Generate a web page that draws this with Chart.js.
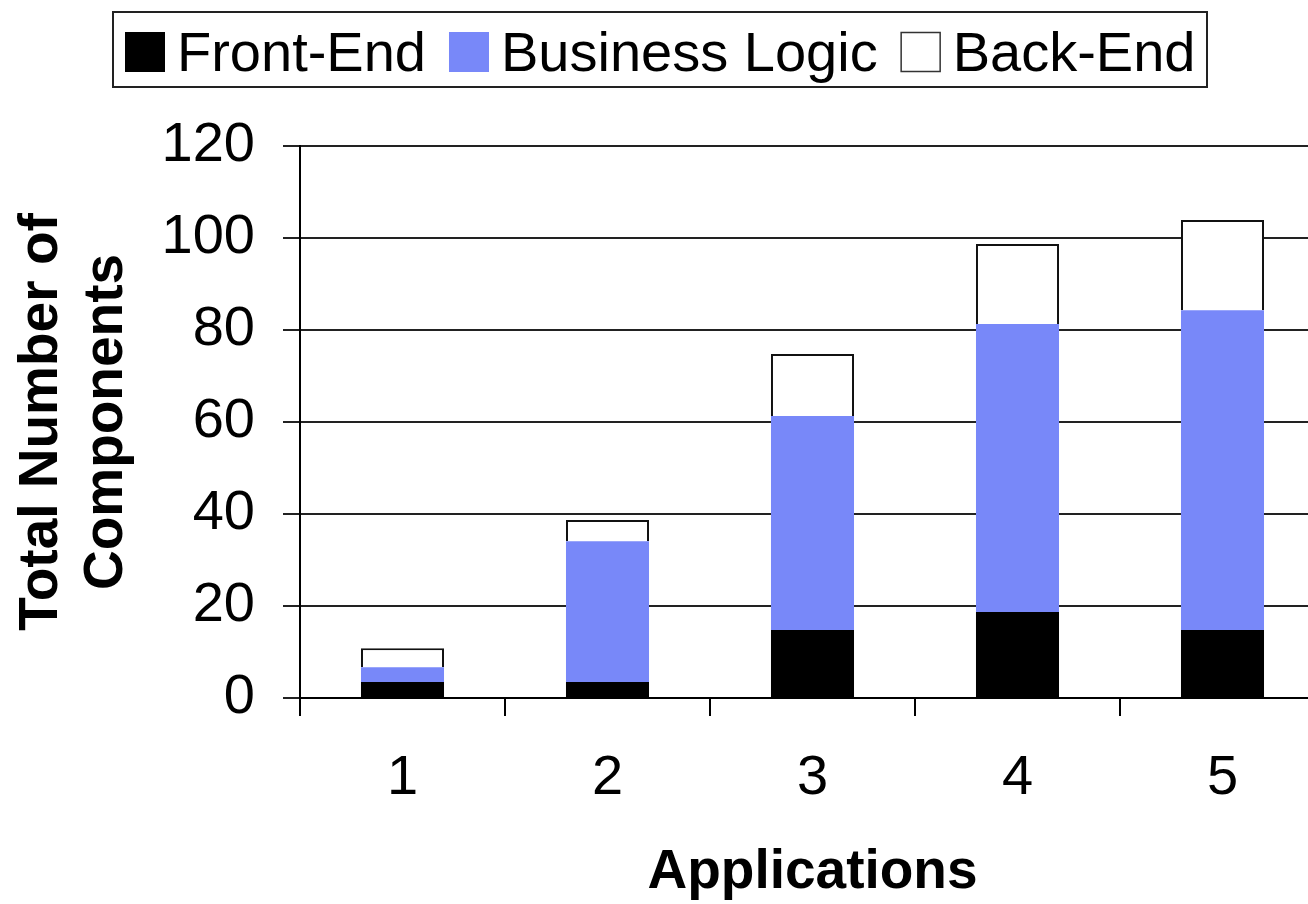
<!DOCTYPE html>
<html>
<head>
<meta charset="utf-8">
<script src="https://cdn.jsdelivr.net/npm/chart.js@4/dist/chart.umd.min.js"></script>
<style>
  html, body { margin: 0; padding: 0; background: #fff; overflow: hidden; }
  #wrap { width: 1330px; height: 904px; }
</style>
</head>
<body>
<div id="wrap"><canvas id="grafico"></canvas></div>
<script>
// Datos
const aplicaciones = ["1", "2", "3", "4", "5"];
const frontEnd = [3.5, 3.5, 14.8, 18.7, 14.8];
const businessLogic = [3.2, 30.6, 46.5, 62.6, 69.5];
const backEnd = [4.1, 4.6, 13.5, 17.4, 19.6];
const ticksY = [0, 20, 40, 60, 80, 100, 120];

const fuente = "'Liberation Sans', Arial, sans-serif";

// Leyenda con marco, dibujada a mano
const leyendaMarco = {
  id: "leyendaMarco",
  afterDraw(chart) {
    const ctx = chart.ctx;
    ctx.save();
    ctx.strokeStyle = "#222";
    ctx.lineWidth = 2;
    ctx.strokeRect(113, 12, 1094, 75);
    ctx.font = "56px " + fuente;
    ctx.textBaseline = "alphabetic";
    let x = 125;
    chart.data.datasets.forEach((ds) => {
      ctx.fillStyle = ds.backgroundColor;
      ctx.fillRect(x, 32, 40, 40);
      if (ds.backgroundColor === "#ffffff") {
        ctx.strokeStyle = "#333";
        ctx.lineWidth = 1.5;
        ctx.strokeRect(x + 0.5, 32.5, 39, 39);
      }
      ctx.fillStyle = "#000";
      ctx.fillText(ds.label, x + 52, 71);
      x += 52 + ctx.measureText(ds.label).width + 23;
    });
    ctx.restore();
  },
};

new Chart("grafico", {
  type: "bar",
  data: {
    labels: aplicaciones,
    datasets: [
      {
        label: "Front-End",
        data: frontEnd,
        backgroundColor: "#000000",
        borderColor: "#000000",
        borderWidth: 0,
      },
      {
        label: "Business Logic",
        data: businessLogic,
        backgroundColor: "#7888f9",
        borderWidth: 0,
      },
      {
        label: "Back-End",
        data: backEnd,
        backgroundColor: "#ffffff",
        borderColor: "#111111",
        borderWidth: 2,
      },
    ],
  },
  options: {
    responsive: true,
    maintainAspectRatio: false,
    animation: false,
    layout: { padding: { top: 146, right: 5, left: 0, bottom: 0 } },
    datasets: { bar: { categoryPercentage: 1, barPercentage: 0.405 } },
    plugins: {
      legend: { display: false },
      tooltip: { enabled: false },
    },
    scales: {
      x: {
        stacked: true,
        afterFit: (scale) => { scale.height = 206; },
        grid: {
          offset: true,
          drawOnChartArea: false,
          tickLength: 18,
          color: "#000",
          lineWidth: 2,
        },
        border: { color: "#000", width: 2 },
        ticks: { color: "#000", padding: 29, font: { family: fuente, size: 56 } },
        title: {
          display: true,
          text: "Applications",
          color: "#000",
          font: { family: fuente, size: 55, weight: "bold" },
          padding: { top: 0, bottom: -2 },
        },
      },
      y: {
        stacked: true,
        min: 0,
        max: 120,
        afterFit: (scale) => { scale.width = 300; },
        afterBuildTicks: (scale) => {
          scale.ticks = ticksY.map((v) => ({ value: v }));
        },
        grid: { color: "#222", lineWidth: 2, tickLength: 17 },
        border: { color: "#000", width: 2 },
        ticks: { color: "#000", padding: 28, font: { family: fuente, size: 56 } },
        title: {
          display: true,
          text: ["Total Number of", "Components"],
          color: "#000",
          font: { family: fuente, size: 55, weight: "bold", lineHeight: 1.18 },
          padding: { top: 9, bottom: 0 },
        },
      },
    },
  },
  plugins: [leyendaMarco],
});
</script>
</body>
</html>
